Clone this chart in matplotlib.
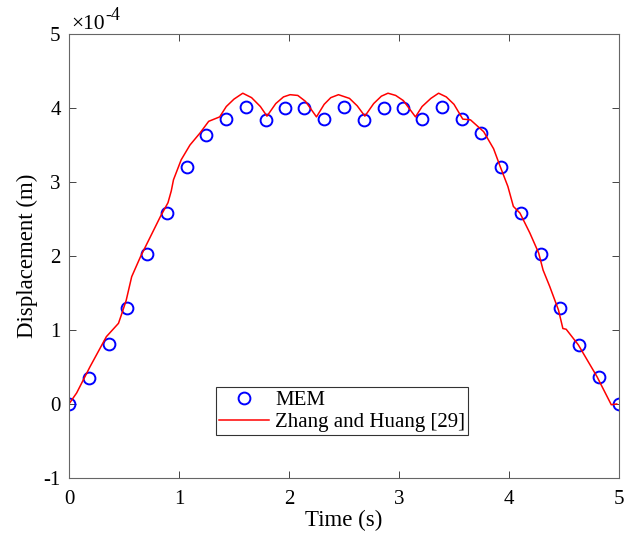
import numpy as np
import matplotlib
matplotlib.use("Agg")
import matplotlib.pyplot as plt
from matplotlib.ticker import FuncFormatter

# MEM results (units of 1e-4 m)
t_mem = [0.0, 0.18, 0.36, 0.53, 0.71, 0.89, 1.07, 1.25, 1.43, 1.61, 1.79, 1.96,
         2.14, 2.32, 2.50, 2.68, 2.86, 3.04, 3.21, 3.39, 3.57, 3.75, 3.93, 4.11,
         4.29, 4.46, 4.64, 4.82, 5.0]
u_mem = [0.0, 0.35, 0.81, 1.30, 2.03, 2.58, 3.20, 3.64, 3.85, 4.01, 3.84, 4.00,
         4.00, 3.85, 4.01, 3.84, 4.00, 4.00, 3.85, 4.01, 3.85, 3.66, 3.20, 2.58,
         2.03, 1.30, 0.80, 0.36, 0.0]

# Zhang and Huang [29] (units of 1e-4 m)
t_ref = [0.0, 0.07, 0.19, 0.34, 0.45, 0.48, 0.52, 0.57, 0.65, 0.74, 0.83, 0.90,
         0.93, 0.95, 1.02, 1.10, 1.19, 1.27, 1.37, 1.43, 1.50, 1.58, 1.66, 1.74,
         1.80, 1.88, 1.95, 2.01, 2.08, 2.15, 2.25, 2.32, 2.38, 2.45, 2.55, 2.62,
         2.69, 2.77, 2.84, 2.90, 2.97, 3.04, 3.15, 3.21, 3.29, 3.36, 3.43, 3.50,
         3.58, 3.65, 3.77, 3.86, 3.92, 3.99, 4.04, 4.10, 4.19, 4.27, 4.31, 4.37,
         4.45, 4.49, 4.52, 4.63, 4.80, 4.93, 4.98]
u_ref = [0.0, 0.15, 0.50, 0.91, 1.09, 1.22, 1.40, 1.72, 1.99, 2.26, 2.53, 2.72,
         2.88, 3.03, 3.30, 3.50, 3.66, 3.82, 3.88, 4.02, 4.12, 4.20, 4.14, 4.02,
         3.89, 4.06, 4.15, 4.18, 4.17, 4.09, 3.88, 4.05, 4.14, 4.18, 4.13, 4.03,
         3.89, 4.06, 4.16, 4.20, 4.17, 4.10, 3.88, 4.02, 4.13, 4.20, 4.15, 4.05,
         3.85, 3.84, 3.68, 3.45, 3.21, 2.94, 2.67, 2.58, 2.31, 2.04, 1.81, 1.59,
         1.27, 1.02, 1.01, 0.80, 0.37, -0.01, 0.0]

plt.rcParams['font.family'] = ['Liberation Serif', 'DejaVu Serif']
plt.rcParams['axes.unicode_minus'] = False

fig = plt.figure(figsize=(6.34, 5.34), dpi=100)
ax = fig.add_axes([0.1088, 0.1049, 0.8675, 0.8314])

scale = 1e-4
ax.plot(t_mem, np.array(u_mem)*scale, 'o', mfc='none', mec='blue', ms=8.5, mew=1.4, label='MEM')
ax.plot(t_ref, np.array(u_ref)*scale, '-', color='red', lw=1.1, label='Zhang and Huang [29]')

ax.set_xlim(0, 5)
ax.set_ylim(-1e-4, 5e-4)
ax.set_xticks(np.arange(0, 6, 1))
ax.set_yticks(np.arange(-1, 6, 1)*scale)
ax.yaxis.set_major_formatter(FuncFormatter(lambda v, p: '%d' % round(v/scale)))

# exponent label in the MATLAB style
ax.text(0.005, 1.012, '\u00d710', transform=ax.transAxes, fontsize=15.5, ha='left', va='baseline')
ax.text(0.0655, 1.032, '-4', transform=ax.transAxes, fontsize=13, ha='left', va='baseline')

ax.tick_params(direction='in', top=True, right=True, length=5, width=0.6,
               labelsize=15, colors='0.15', labelcolor='black')
ax.tick_params(axis='x', pad=9)
ax.tick_params(axis='y', pad=6)
for s in ax.spines.values():
    s.set_linewidth(0.8)
    s.set_color('0.4')

ax.set_xlabel('Time (s)', fontsize=16.5, labelpad=0)
ax.set_ylabel('Displacement (m)', fontsize=16.5, labelpad=4)

leg = ax.legend(loc='lower left', bbox_to_anchor=(0.267, 0.097), fontsize=15,
                frameon=True, fancybox=False, handlelength=2.4, borderpad=0.15,
                labelspacing=0.1, handletextpad=0.3, borderaxespad=0)
leg.get_frame().set_edgecolor('black')
leg.get_frame().set_linewidth(0.8)

fig.savefig('out.png', dpi=100)
